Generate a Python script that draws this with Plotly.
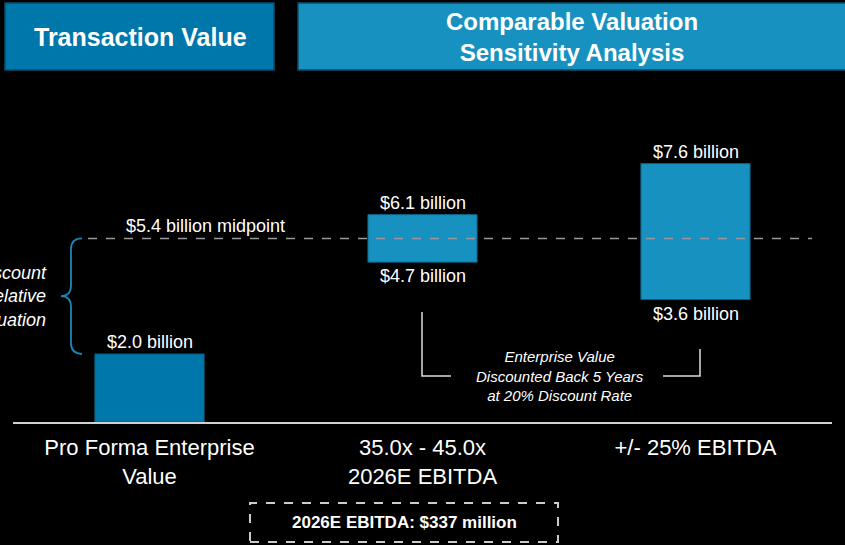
import plotly.graph_objects as go

# ---------------- data ----------------
categories = ["Pro Forma Enterprise<br>Value", "35.0x - 45.0x<br>2026E EBITDA", "+/- 25% EBITDA"]
low_values = [0.0, 4.7, 3.6]      # bar bottoms ($ billion)
high_values = [2.0, 6.1, 7.6]     # bar tops ($ billion)
midpoint = 5.4
bar_colors = ["#0077AA", "#1792C0", "#1792C0"]
header_left = "Transaction Value"
header_right = "Comparable Valuation<br>Sensitivity Analysis"
brace_text = "Discount<br>to Relative<br>Valuation"
bracket_text = "Enterprise Value<br>Discounted Back 5 Years<br>at 20% Discount Rate"
ebitda_text = "2026E EBITDA: $337 million"

FONT = "Liberation Sans, Arial, Helvetica, sans-serif"
WIDTH, HEIGHT = 845, 545
L, R, T, B = 13, 13, 82, 123
PW, PH = WIDTH - L - R, HEIGHT - T - B


def fx(px):
    return (px - L) / PW


def fy(py):
    return (HEIGHT - B - py) / PH


def note(x, y, text, size, **kw):
    d = dict(xref="paper", yref="paper", x=fx(x), y=fy(y), text=text, showarrow=False,
             xanchor="center", yanchor="middle", font=dict(size=size, color="white", family=FONT))
    d.update(kw)
    return d


heights = [h - l for h, l in zip(high_values, low_values)]

fig = go.Figure()
fig.add_trace(go.Bar(
    x=categories, y=heights, base=low_values, width=0.4,
    marker=dict(color=bar_colors, line=dict(color="#0d5f82", width=1)),
    hoverinfo="skip", showlegend=False,
))

shapes = []
annotations = []

# headers
shapes.append(dict(type="rect", xref="paper", yref="paper", x0=fx(5), x1=fx(274), y0=fy(70), y1=fy(3),
                   fillcolor="#0077AA", line=dict(color="#0b4f6e", width=1.5), layer="above"))
shapes.append(dict(type="rect", xref="paper", yref="paper", x0=fx(298), x1=fx(850), y0=fy(70), y1=fy(3),
                   fillcolor="#1792C0", line=dict(color="#0b4f6e", width=1.5), layer="above"))
annotations.append(note(140, 37, "<b>%s</b>" % header_left, 25))
annotations.append(note(572, 37, "<b>%s</b>" % header_right, 24))

# midpoint dashed line
shapes.append(dict(type="line", xref="paper", yref="y", x0=fx(88), x1=fx(812), y0=midpoint, y1=midpoint,
                   line=dict(color="#999999", width=1.5, dash="dash"), layer="above"))
annotations.append(dict(xref="paper", yref="y", x=fx(205), y=midpoint, xanchor="center", yanchor="bottom",
                        yshift=0, text="$%.1f billion midpoint" % midpoint, showarrow=False,
                        font=dict(size=18, color="white", family=FONT)))

# bar labels
for i, (lo, hi) in enumerate(zip(low_values, high_values)):
    annotations.append(dict(xref="x", yref="y", x=categories[i], y=hi, xanchor="center", yanchor="bottom",
                            yshift=0, text="$%.1f billion" % hi, showarrow=False,
                            font=dict(size=18, color="white", family=FONT)))
    if lo > 0:
        annotations.append(dict(xref="x", yref="y", x=categories[i], y=lo, xanchor="center", yanchor="top",
                                yshift=-2, text="$%.1f billion" % lo, showarrow=False,
                                font=dict(size=18, color="white", family=FONT)))

# left curly brace spanning bar-1 top to midpoint
ytop, ybot = midpoint, high_values[0]
ymid = (ytop + ybot) / 2
d = 0.32
x_end, x_sp, x_tip = fx(82), fx(71), fx(61)
path = (f"M {x_end},{ytop} Q {x_sp},{ytop} {x_sp},{ytop - d} "
        f"L {x_sp},{ymid + d} Q {x_sp},{ymid} {x_tip},{ymid} "
        f"Q {x_sp},{ymid} {x_sp},{ymid - d} "
        f"L {x_sp},{ybot + d} Q {x_sp},{ybot} {x_end},{ybot}")
shapes.append(dict(type="path", xref="paper", yref="y", path=path,
                   line=dict(color="#1a86b8", width=1.8)))
annotations.append(dict(xref="paper", yref="y", x=fx(49), y=ymid, xanchor="right", yanchor="middle",
                        align="right", text="<i>%s</i>" % brace_text, showarrow=False,
                        font=dict(size=18, color="white", family=FONT)))

# bracket with discount note
line_style = dict(color="#dddddd", width=1.5)
shapes.append(dict(type="path", xref="paper", yref="paper",
                   path=f"M {fx(422)},{fy(312)} L {fx(422)},{fy(376)} L {fx(451)},{fy(376)}", line=line_style))
shapes.append(dict(type="path", xref="paper", yref="paper",
                   path=f"M {fx(700)},{fy(349)} L {fx(700)},{fy(376)} L {fx(663)},{fy(376)}", line=line_style))
annotations.append(note(560, 376, "<i>%s</i>" % bracket_text, 15))

# bottom dashed box
shapes.append(dict(type="rect", xref="paper", yref="paper", x0=fx(250), x1=fx(558), y0=fy(542), y1=fy(503),
                   line=dict(color="#cccccc", width=2, dash="dash")))
annotations.append(note(404, 522, "<b>%s</b>" % ebitda_text, 17))

fig.update_layout(
    width=WIDTH, height=HEIGHT,
    margin=dict(l=L, r=R, t=T, b=B, pad=0),
    paper_bgcolor="black", plot_bgcolor="black",
    font=dict(family=FONT, color="white"),
    shapes=shapes, annotations=annotations,
    showlegend=False,
    xaxis=dict(type="category", range=[-0.5, 2.5], showgrid=False, zeroline=False,
               showline=True, linecolor="#d0d0d0", linewidth=1.5, ticks="",
               tickfont=dict(size=22, color="white", family=FONT), ticklabelstandoff=5,
               fixedrange=True),
    yaxis=dict(range=[0, 10], visible=False, showgrid=False, zeroline=False, fixedrange=True),
)

fig.write_html("out.html",
               config={"displayModeBar": False, "staticPlot": True},
               post_script="document.body.style.margin='0';document.body.style.overflow='hidden';"
                           "document.body.style.background='black';")
